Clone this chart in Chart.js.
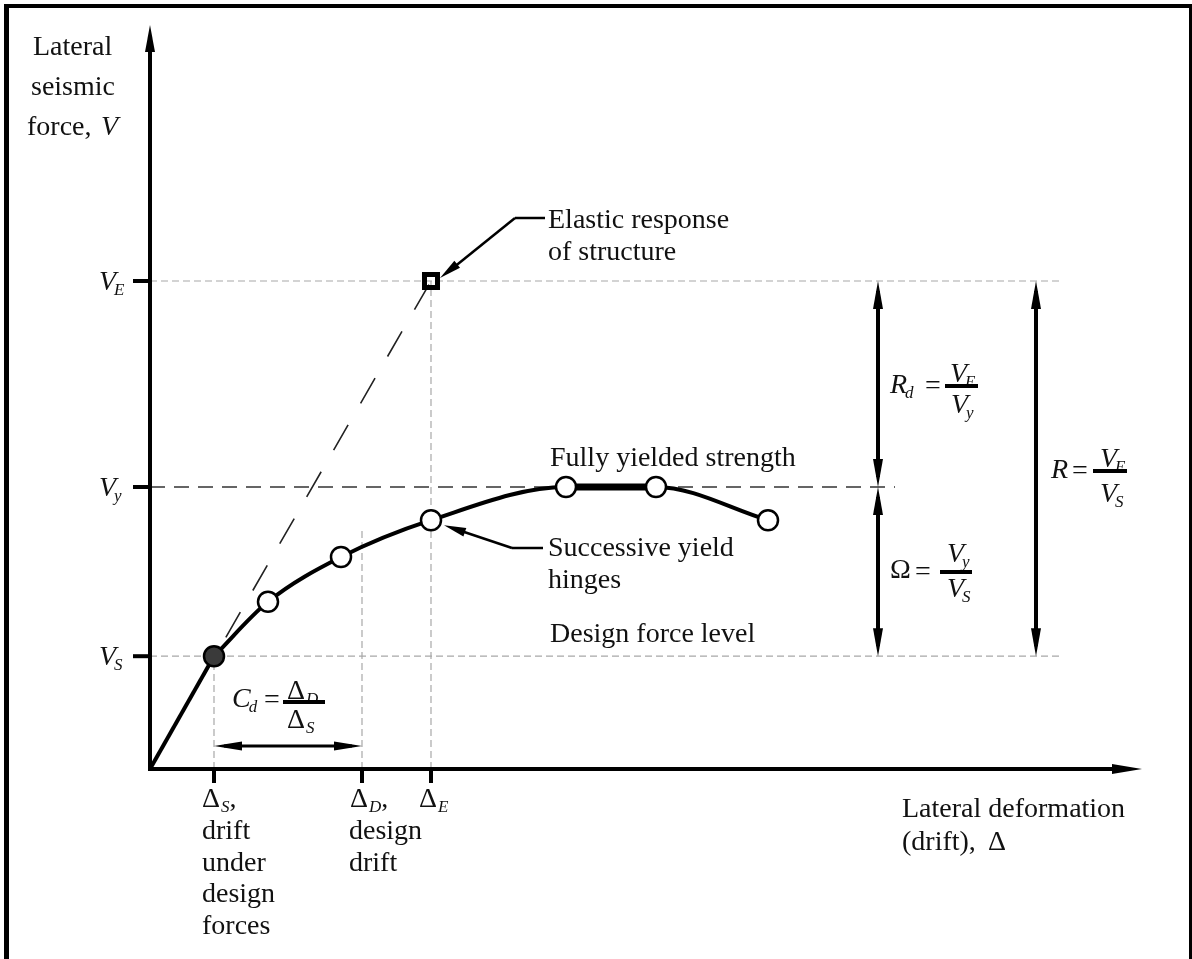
<!DOCTYPE html>
<html>
<head>
<meta charset="utf-8">
<title>Lateral seismic force vs drift</title>
<script src="https://cdn.jsdelivr.net/npm/chart.js@4.4.0/dist/chart.umd.min.js"></script>
<style>
  html, body { margin: 0; padding: 0; background: #fff; }
  canvas { display: block; }
</style>
</head>
<body>
<canvas id="myChart" width="1192" height="959"></canvas>
<script>
// pushover curve: drift vs force (arbitrary units)
var hingeDrift = [0, 6.4, 11.8, 19.1, 28.1, 41.6, 50.6, 61.8];
var hingeForce = [0, 14.1, 20.9, 26.5, 31.1, 35.25, 35.25, 31.1];
// elastic response line
var elasticDrift = [0, 28.1];
var elasticForce = [0, 61];
// force levels V_E, V_y, V_S
var forceLevels = [61, 35.25, 14.1];
var forceSubs = ['E', 'y', 'S'];
// drift levels Δ_S, Δ_D, Δ_E
var driftLevels = [6.4, 21.2, 28.1];
var driftSubs = ['S', 'D', 'E'];
var driftTops = [14.1, 30, 61];   // where each dotted drift line stops

var SERIF = '"Liberation Serif", "Times New Roman", serif';
var INK = '#111';
var FS = 28;

function font(size, italic) {
    return (italic ? 'italic ' : '') + size + 'px ' + SERIF;
}

function line(ctx, x1, y1, x2, y2, w, color, dash) {
    ctx.save();
    ctx.beginPath();
    ctx.lineWidth = w;
    ctx.strokeStyle = color;
    ctx.setLineDash(dash || []);
    ctx.moveTo(x1, y1);
    ctx.lineTo(x2, y2);
    ctx.stroke();
    ctx.restore();
}

function arrowHead(ctx, tx, ty, fx, fy, len, half) {
    var a = Math.atan2(ty - fy, tx - fx);
    var bx = tx - len * Math.cos(a), by = ty - len * Math.sin(a);
    ctx.save();
    ctx.fillStyle = '#000';
    ctx.beginPath();
    ctx.moveTo(tx, ty);
    ctx.lineTo(bx + half * Math.sin(a), by - half * Math.cos(a));
    ctx.lineTo(bx - half * Math.sin(a), by + half * Math.cos(a));
    ctx.closePath();
    ctx.fill();
    ctx.restore();
}

function text(ctx, s, x, y, size, italic) {
    ctx.font = font(size, italic);
    ctx.fillStyle = INK;
    ctx.textBaseline = 'alphabetic';
    ctx.textAlign = 'left';
    ctx.fillText(s, x, y);
    return x + ctx.measureText(s).width;
}

// main symbol with a subscript, returns end x
function sym(ctx, main, sub, x, y, size, mainItalic) {
    var x2 = text(ctx, main, x, y, size, mainItalic);
    return text(ctx, sub, x2 + (mainItalic ? -2 : 1), y + 5, Math.round(size * 0.62), true);
}

function bar(ctx, x, y, w) {
    ctx.fillStyle = '#000';
    ctx.fillRect(x, y - 2, w, 4);
}

var diagram = {
    id: 'diagram',
    beforeDatasetsDraw: function(chart) {
        var ctx = chart.ctx;
        var xs = chart.scales.x, ys = chart.scales.y;
        var X = function(v) { return xs.getPixelForValue(v); };
        var Y = function(v) { return ys.getPixelForValue(v); };
        var x0 = X(0), y0 = Y(0);

        // frame
        ctx.fillStyle = '#000';
        ctx.fillRect(4, 4, 5, 955);
        ctx.fillRect(4, 4, 1188, 4);
        ctx.fillRect(1189, 4, 3, 955);

        // force level reference lines
        line(ctx, x0, Y(forceLevels[0]), 1063, Y(forceLevels[0]), 1.2, '#a8a8a8', [7, 4]);
        line(ctx, x0, Y(forceLevels[2]), 1063, Y(forceLevels[2]), 1.2, '#a8a8a8', [7, 4]);
        line(ctx, x0, Y(forceLevels[1]), 895, Y(forceLevels[1]), 1.6, '#333', [15, 9]);

        // drift verticals
        driftLevels.forEach(function(d, i) {
            line(ctx, X(d), y0, X(d), Y(driftTops[i]), 1.2, '#a8a8a8', [7, 4]);
        });
    },
    afterDatasetsDraw: function(chart) {
        var ctx = chart.ctx;
        var xs = chart.scales.x, ys = chart.scales.y;
        var X = function(v) { return xs.getPixelForValue(v); };
        var Y = function(v) { return ys.getPixelForValue(v); };
        var x0 = X(0), y0 = Y(0);
        var top = chart.chartArea.top, right = chart.chartArea.right;

        // axes
        line(ctx, x0, y0 + 2, x0, top + 20, 4, '#000');
        arrowHead(ctx, x0, top, x0, y0, 27, 5);
        line(ctx, x0 - 2, y0, right - 20, y0, 4, '#000');
        arrowHead(ctx, right, y0, x0, y0, 30, 5);

        // ticks + labels on force axis
        forceLevels.forEach(function(v, i) {
            line(ctx, x0 - 17, Y(v), x0, Y(v), 4, '#000');
            sym(ctx, 'V', forceSubs[i], 99, Y(v) + 9, FS, true);
        });

        // ticks + labels on drift axis
        driftLevels.forEach(function(d, i) {
            line(ctx, X(d), y0, X(d), y0 + 14, 4, '#000');
            var e = sym(ctx, '\u0394', driftSubs[i], X(d) - 12, 807, FS, false);
            if (i < 2) text(ctx, ',', e, 807, FS, false);
        });
        var lx = X(driftLevels[0]) - 12;
        ['drift', 'under', 'design', 'forces'].forEach(function(s, k) {
            text(ctx, s, lx, 839 + k * 31.5, FS, false);
        });
        lx = X(driftLevels[1]) - 13;
        ['design', 'drift'].forEach(function(s, k) {
            text(ctx, s, lx, 839 + k * 31.5, FS, false);
        });

        // axis titles
        text(ctx, 'Lateral', 33, 55, FS, false);
        text(ctx, 'seismic', 31, 95, FS, false);
        text(ctx, 'force,', 27, 135, FS, false);
        text(ctx, 'V', 101, 135, FS, true);
        text(ctx, 'Lateral deformation', 902, 817, FS, false);
        text(ctx, '(drift),', 902, 850, FS, false);
        text(ctx, '\u0394', 988, 850, FS, false);

        // annotations
        text(ctx, 'Elastic response', 548, 228, FS, false);
        text(ctx, 'of structure', 548, 260, FS, false);
        var tx = X(elasticDrift[1]) + 9, ty = Y(elasticForce[1]) - 3;
        line(ctx, 545, 218, 515, 218, 2.5, '#000');
        line(ctx, 515, 218, tx + 8, ty - 6, 2.5, '#000');
        arrowHead(ctx, tx, ty, 515, 218, 22, 4.5);

        text(ctx, 'Fully yielded strength', 550, 466, FS, false);
        text(ctx, 'Successive yield', 548, 556, FS, false);
        text(ctx, 'hinges', 548, 588, FS, false);
        tx = X(hingeDrift[4]) + 13; ty = Y(hingeForce[4]) + 5;
        line(ctx, 543, 548, 512, 548, 2.5, '#000');
        line(ctx, 512, 548, tx + 9, ty + 3, 2.5, '#000');
        arrowHead(ctx, tx, ty, 512, 548, 22, 4.5);
        text(ctx, 'Design force level', 550, 642, FS, false);

        // dimension arrows
        var ax = 878, bx = 1036;
        var yE = Y(forceLevels[0]), yY = Y(forceLevels[1]), yS = Y(forceLevels[2]);
        line(ctx, ax, yE + 10, ax, yY - 10, 4, '#000');
        arrowHead(ctx, ax, yE, ax, yY, 28, 5);
        arrowHead(ctx, ax, yY, ax, yE, 28, 5);
        line(ctx, ax, yY + 10, ax, yS - 10, 4, '#000');
        arrowHead(ctx, ax, yY, ax, yS, 28, 5);
        arrowHead(ctx, ax, yS, ax, yY, 28, 5);
        line(ctx, bx, yE + 10, bx, yS - 10, 4, '#000');
        arrowHead(ctx, bx, yE, bx, yS, 28, 5);
        arrowHead(ctx, bx, yS, bx, yE, 28, 5);

        var dS = X(driftLevels[0]), dD = X(driftLevels[1]);
        line(ctx, dS + 10, 746, dD - 10, 746, 3, '#000');
        arrowHead(ctx, dS, 746, dD, 746, 28, 4.5);
        arrowHead(ctx, dD, 746, dS, 746, 28, 4.5);

        // formulas
        // R_d = V_E / V_y
        sym(ctx, 'R', 'd', 890, 393, FS, true);
        text(ctx, '=', 925, 394, FS, false);
        sym(ctx, 'V', 'E', 950, 382, FS, true);
        sym(ctx, 'V', 'y', 951, 413, FS, true);
        bar(ctx, 945, 386, 33);

        // Omega = V_y / V_S
        text(ctx, '\u03A9', 890, 578, FS, false);
        text(ctx, '=', 915, 580, FS, false);
        sym(ctx, 'V', 'y', 947, 562, FS, true);
        sym(ctx, 'V', 'S', 947, 597, FS, true);
        bar(ctx, 940, 572, 32);

        // R = V_E / V_S
        text(ctx, 'R', 1051, 478, FS, true);
        text(ctx, '=', 1072, 479, FS, false);
        sym(ctx, 'V', 'E', 1100, 467, FS, true);
        sym(ctx, 'V', 'S', 1100, 502, FS, true);
        bar(ctx, 1093, 471, 34);

        // C_d = Δ_D / Δ_S
        sym(ctx, 'C', 'd', 232, 707, FS, true);
        text(ctx, '=', 264, 708, FS, false);
        sym(ctx, '\u0394', 'D', 287, 699, FS, false);
        sym(ctx, '\u0394', 'S', 287, 728, FS, false);
        bar(ctx, 283, 702, 42);
    }
};

function renderChart() {
    var ctx = document.getElementById('myChart').getContext('2d');
    var pts = hingeDrift.map(function(d, i) { return { x: d, y: hingeForce[i] }; });
    var initial = pts.slice(0, 2);     // straight elastic branch up to V_S
    var curve = pts.slice(1);          // yielding branch with hinges
    var elastic = elasticDrift.map(function(d, i) { return { x: d, y: elasticForce[i] }; });

    new Chart(ctx, {
        type: 'scatter',
        data: {
            datasets: [{
                label: 'Inelastic response',
                data: curve,
                showLine: true,
                borderColor: '#000',
                borderWidth: 4,
                cubicInterpolationMode: 'monotone',
                segment: {
                    borderWidth: function(c) { return c.p0DataIndex === 4 ? 7 : 4; }
                },
                pointRadius: 10,
                pointBackgroundColor: curve.map(function(p, i) { return i === 0 ? '#3a3a3a' : '#fff'; }),
                pointBorderColor: '#000',
                pointBorderWidth: 2.5,
                clip: false,
                order: 0
            }, {
                label: 'Initial branch',
                data: initial,
                showLine: true,
                borderColor: '#000',
                borderWidth: 4,
                pointRadius: 0,
                clip: false,
                order: 1
            }, {
                label: 'Elastic response point',
                data: [elastic[1]],
                pointStyle: 'rect',
                pointRadius: 9.2,
                pointBorderWidth: 5,
                pointBorderColor: '#000',
                pointBackgroundColor: 'rgba(255,255,255,0)',
                clip: false,
                order: 2
            }, {
                label: 'Elastic response',
                data: elastic,
                showLine: true,
                borderColor: '#222',
                borderWidth: 1.6,
                borderDash: [29, 25],
                borderDashOffset: 10,
                pointRadius: 0,
                clip: false,
                order: 3
            }]
        },
        options: {
            responsive: false,
            animation: false,
            devicePixelRatio: 1,
            layout: { padding: { left: 150, right: 50, top: 25, bottom: 190 } },
            scales: {
                x: { type: 'linear', min: 0, max: 99.2, display: false },
                y: { type: 'linear', min: 0, max: 93, display: false }
            },
            plugins: {
                legend: { display: false },
                tooltip: { enabled: false }
            }
        },
        plugins: [diagram]
    });
}

renderChart();
</script>
</body>
</html>
